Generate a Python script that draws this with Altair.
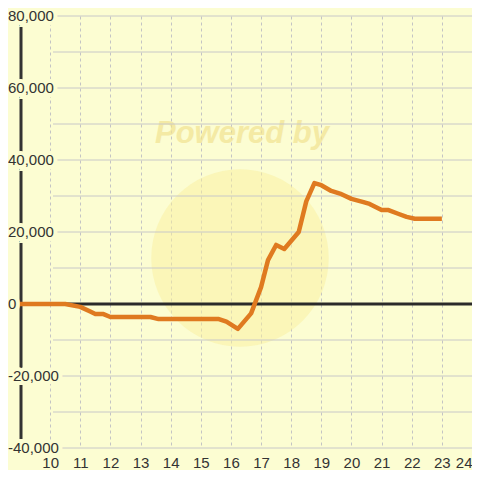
import altair as alt
import pandas as pd

# data
hours = [9.0, 10.5, 11.0, 11.33, 11.5, 11.77, 12.0, 13.33, 13.6, 15.6, 15.85,
         16.23, 16.67, 17.0, 17.23, 17.5, 17.77, 18.25, 18.5, 18.77, 19.0,
         19.33, 19.67, 20.0, 20.4, 20.6, 21.0, 21.23, 21.57, 21.83, 22.1, 23.0]
values = [0, 0, -800, -2100, -2800, -2800, -3600, -3600, -4200, -4200, -4900,
          -6900, -2600, 4700, 12200, 16400, 15300, 20000, 28500, 33600, 33000,
          31400, 30500, 29200, 28300, 27800, 26100, 26100, 25000, 24200, 23700, 23700]
x_ticks = list(range(10, 25))
y_ticks = [-40000, -20000, 0, 20000, 40000, 60000, 80000]
y_grid = list(range(-40000, 80001, 10000))

BG = "#fcfdd2"
XD = [9.0, 24.0]
YD = [-40000, 80000]
W, H = 452, 432

line_df = pd.DataFrame({"h": hours, "v": values})
grid_df = pd.DataFrame({"v": y_grid})
lab_df = pd.DataFrame({"v": y_ticks, "t": [f"{t:,}" for t in y_ticks]})
axis_df = pd.DataFrame({"a": [YD[0]], "b": [YD[1]]})
zero_df = pd.DataFrame({"v": [0]})
wm_df = pd.DataFrame({"t": ["Powered by"]})

xs = alt.Scale(domain=XD, nice=False, zero=False)
ys = alt.Scale(domain=YD, nice=False, zero=False)

xaxis = alt.Axis(values=x_ticks, grid=True, gridDash=[3, 3], gridColor="#c4c4c4",
                 gridWidth=1, domain=False, ticks=False, labelFontSize=15,
                 labelColor="#333333", labelFont="Liberation Sans", labelPadding=7,
                 title=None, labelFlush=True)

circle = alt.Chart(wm_df).mark_circle(color="#f9ef9e", opacity=0.5, size=31500).encode(
    x=alt.value(220), y=alt.value(242))
wm_text = alt.Chart(wm_df).mark_text(font="Liberation Sans", fontSize=31, fontWeight="bold",
                                     fontStyle="italic", color="#f2e291", opacity=0.7,
                                     align="center", baseline="middle").encode(
    x=alt.value(222), y=alt.value(118), text="t:N")

hgrid = alt.Chart(grid_df).mark_rule(color="#c8c8c8", strokeWidth=1).encode(
    y=alt.Y("v:Q", scale=ys, axis=None), x=alt.value(33), x2=alt.value(W))

yline = alt.Chart(axis_df).mark_rule(color="#333333", strokeWidth=3).encode(
    y=alt.Y("a:Q", scale=ys, axis=None), y2="b:Q", x=alt.value(1))

halo = alt.Chart(lab_df).mark_text(font="Liberation Sans", fontSize=15, align="left",
                                   baseline="middle", fill=BG, stroke=BG,
                                   strokeWidth=8).encode(
    y=alt.Y("v:Q", scale=ys, axis=None), x=alt.value(-12), text="t:N")
labels = alt.Chart(lab_df).mark_text(font="Liberation Sans", fontSize=15, align="left",
                                     baseline="middle", color="#333333").encode(
    y=alt.Y("v:Q", scale=ys, axis=None), x=alt.value(-12), text="t:N")

zero = alt.Chart(zero_df).mark_rule(color="#2a2a2a", strokeWidth=3).encode(
    y=alt.Y("v:Q", scale=ys, axis=None), x=alt.value(0), x2=alt.value(W))

line = alt.Chart(line_df).mark_line(color="#df7a20", strokeWidth=4.5, strokeJoin="round").encode(
    x=alt.X("h:Q", scale=xs, axis=xaxis),
    y=alt.Y("v:Q", scale=ys, axis=None))

chart = alt.layer(circle, wm_text, hgrid, yline, halo, labels, zero, line).properties(
    width=W, height=H,
    padding={"left": 12, "top": 8, "right": 0, "bottom": 22},
    autosize=alt.AutoSizeParams(type="none"),
    background=BG,
).configure_view(stroke=None)

chart.save("out.html", embed_options={"renderer": "svg", "actions": False})
